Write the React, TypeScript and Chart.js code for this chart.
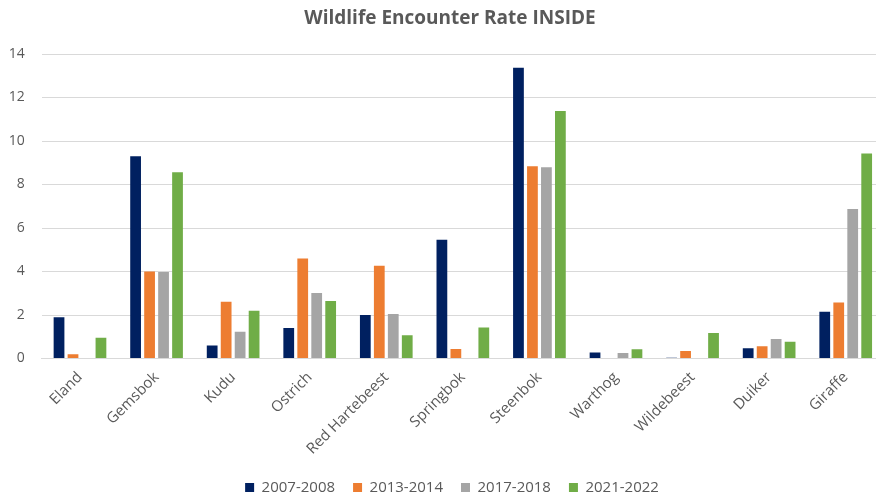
import React, { useEffect, useRef } from "react";
import { Chart, registerables } from "chart.js";

Chart.register(...registerables);

const categories = ["Eland", "Gemsbok", "Kudu", "Ostrich", "Red Hartebeest", "Springbok", "Steenbok", "Warthog", "Wildebeest", "Duiker", "Giraffe"];
const seriesLabels = ["2007-2008", "2013-2014", "2017-2018", "2021-2022"];
const s2007 = [1.9, 9.3, 0.6, 1.4, 2.0, 5.46, 13.37, 0.28, 0.03, 0.47, 2.15];
const s2013 = [0.2, 4.0, 2.61, 4.6, 4.27, 0.44, 8.84, 0, 0.34, 0.56, 2.57];
const s2017 = [0, 3.98, 1.23, 3.01, 2.05, 0, 8.79, 0.25, 0, 0.9, 6.87];
const s2021 = [0.95, 8.56, 2.2, 2.64, 1.07, 1.42, 11.38, 0.42, 1.17, 0.77, 9.43];
const colors = ["#002060", "#ED7D31", "#A5A5A5", "#70AD47"];
const yTicks = [0, 2, 4, 6, 8, 10, 12, 14];

const CW = 884;
const CH = 505;

const shiftPlugin = {
  id: "shiftBlocks",
  afterLayout(chart: any) {
    const t = chart.titleBlock;
    if (t) {
      t.left += 5;
      t.right += 5;
    }
    const lg = chart.legend;
    if (lg) {
      lg.left += 7;
      lg.right += 7;
    }
  },
};

export default function App() {
  const ref = useRef<HTMLCanvasElement | null>(null);
  useEffect(() => {
    document.body.style.margin = "0";
    const ctx = ref.current!;
    const all = [s2007, s2013, s2017, s2021];
    const chart = new Chart(ctx, {
      type: "bar",
      data: {
        labels: categories,
        datasets: all.map((d, i) => ({
          label: seriesLabels[i],
          data: d,
          backgroundColor: colors[i],
          borderWidth: 0,
          categoryPercentage: 0.73,
          barPercentage: 0.77,
        })),
      },
      options: {
        animation: false,
        responsive: false,
        maintainAspectRatio: false,
        layout: { padding: { left: 6, right: 0, top: 0, bottom: 0 } },
        plugins: {
          title: {
            display: true,
            text: "Wildlife Encounter Rate INSIDE",
            color: "#595959",
            font: { family: "Open Sans", size: 19, weight: "bold" },
            padding: { top: 7, bottom: 24.2 },
          },
          legend: {
            position: "bottom",
            labels: {
              color: "#595959",
              font: { family: "Open Sans", size: 15 },
              boxWidth: 9,
              boxHeight: 9,
              padding: 18,
            },
          },
          tooltip: { enabled: false },
        },
        scales: {
          x: {
            grid: { display: false, drawTicks: false },
            border: { display: true, color: "#d9d9d9" },
            ticks: {
              color: "#595959",
              font: { family: "Open Sans", size: 15 },
              minRotation: 45,
              maxRotation: 45,
              padding: 10,
            },
            afterFit: (scale: any) => {
              scale.height = 103.5;
            },
          },
          y: {
            min: 0,
            max: 14,
            afterBuildTicks: (scale: any) => {
              scale.ticks = yTicks.map((v) => ({ value: v }));
            },
            afterFit: (scale: any) => {
              scale.width = 35.7;
            },
            grid: { color: "#d9d9d9", drawTicks: false },
            border: { display: false },
            ticks: {
              color: "#595959",
              font: { family: "Open Sans", size: 14 },
              padding: 17,
            },
          },
        },
      },
      plugins: [shiftPlugin],
    });
    return () => chart.destroy();
  }, []);
  return (
    <div style={{ width: 876, height: 499, position: "relative", overflow: "hidden", background: "#fff" }}>
      <canvas ref={ref} width={CW} height={CH} style={{ width: CW, height: CH, display: "block" }} />
    </div>
  );
}
